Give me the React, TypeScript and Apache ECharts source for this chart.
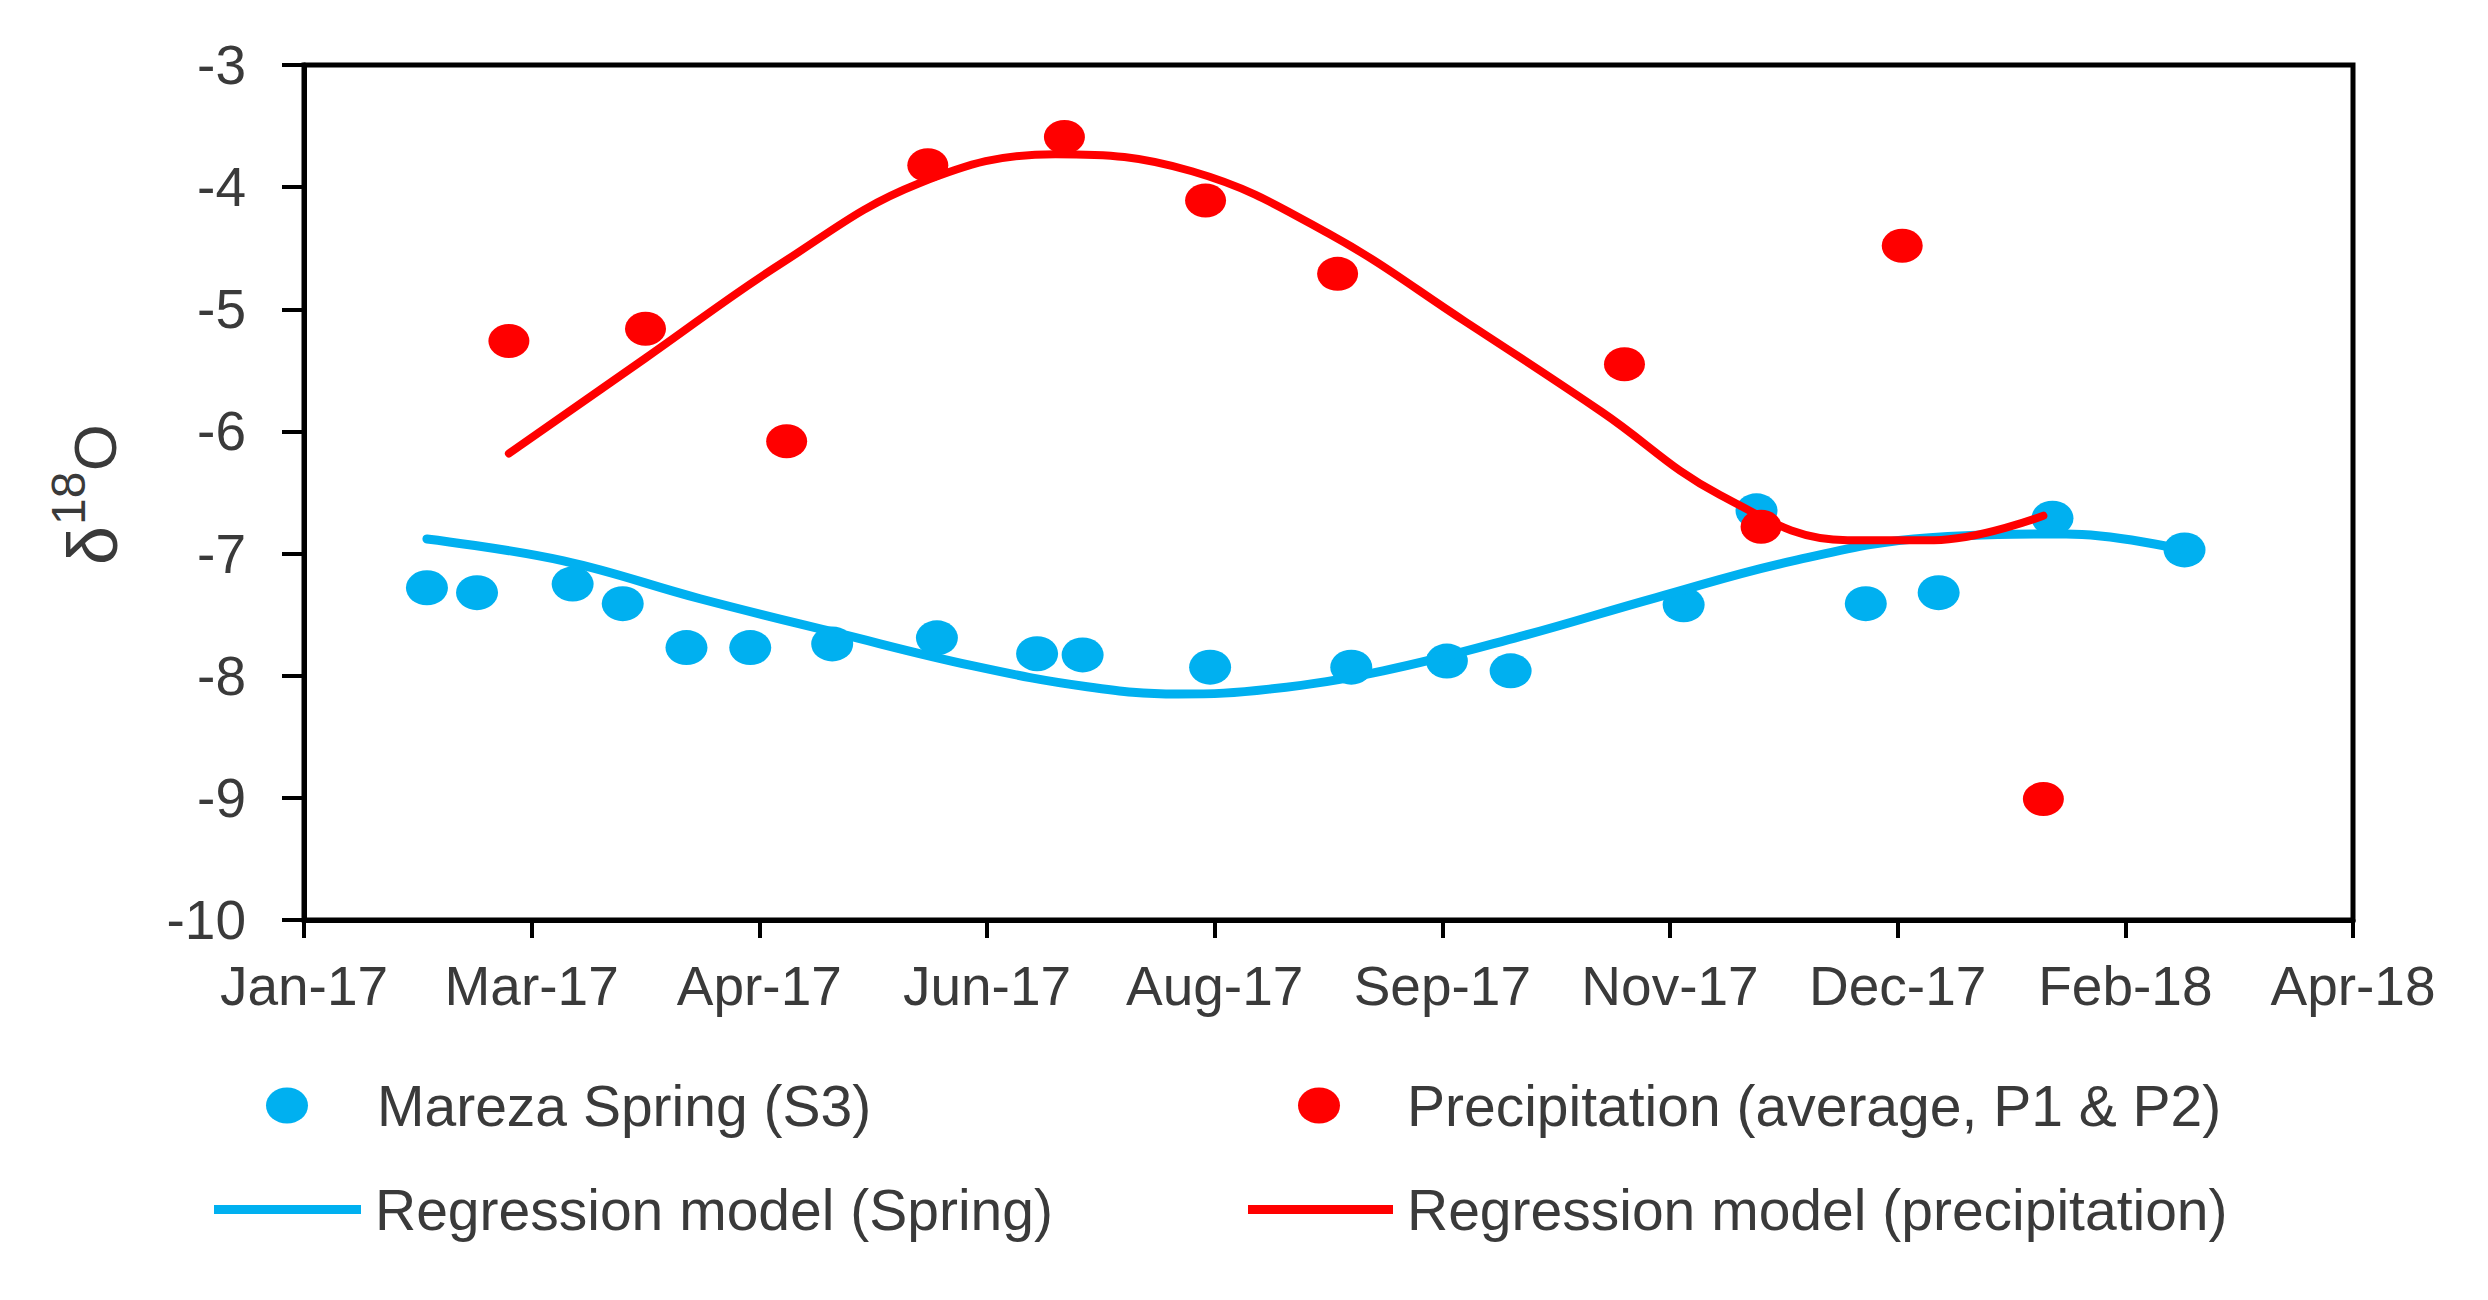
import React, { useEffect, useRef } from "react";
import * as echarts from "echarts";

// ---------------- data ----------------
const springDates = [
  "2017-02-11", "2017-02-22", "2017-03-15", "2017-03-26", "2017-04-09",
  "2017-04-23", "2017-05-11", "2017-06-03", "2017-06-25", "2017-07-05",
  "2017-08-02", "2017-09-02", "2017-09-23", "2017-10-07", "2017-11-14",
  "2017-11-30", "2017-12-24", "2018-01-09", "2018-02-03", "2018-03-04",
];
const springValues = [
  -7.28, -7.32, -7.25, -7.41, -7.77, -7.77, -7.74, -7.69, -7.82, -7.83,
  -7.93, -7.93, -7.88, -7.96, -7.42, -6.65, -7.41, -7.32, -6.71, -6.97,
];

const precipDates = [
  "2017-03-01", "2017-03-31", "2017-05-01", "2017-06-01", "2017-07-01",
  "2017-08-01", "2017-08-30", "2017-11-01", "2017-12-01", "2018-01-01",
  "2018-02-01",
];
const precipValues = [
  -5.26, -5.16, -6.08, -3.82, -3.59, -4.11, -4.71, -5.45, -6.78, -4.48, -9.01,
];

const springModelDates = [
  "2017-02-11", "2017-03-13", "2017-04-12", "2017-05-12", "2017-06-11",
  "2017-07-06", "2017-07-26", "2017-08-15", "2017-09-09", "2017-10-09",
  "2017-11-08", "2017-12-08", "2018-01-07", "2018-02-06", "2018-03-04",
];
const springModelValues = [
  -6.88, -7.06, -7.37, -7.65, -7.92, -8.09, -8.15, -8.11, -7.96, -7.68,
  -7.36, -7.06, -6.87, -6.84, -6.97,
];

const precipModelDates = [
  "2017-03-01", "2017-03-31", "2017-04-30", "2017-05-30", "2017-06-29",
  "2017-07-29", "2017-08-28", "2017-09-27", "2017-10-27", "2017-11-22",
  "2017-12-20", "2018-01-08", "2018-02-01",
];
const precipModelValues = [
  -6.18, -5.4, -4.62, -3.97, -3.73, -3.87, -4.38, -5.1, -5.84, -6.52,
  -6.89, -6.89, -6.69,
];

const monthNames = ["Jan", "Feb", "Mar", "Apr", "May", "Jun", "Jul", "Aug", "Sep", "Oct", "Nov", "Dec"];

const seriesNames = [
  "Mareza Spring (S3)",
  "Precipitation (average, P1 & P2)",
  "Regression model (Spring)",
  "Regression model (precipitation)",
];

// Excel-style day serial axis
const xMin = 42750;
const xMax = 43200;
const xStep = 50;
const yMin = -10;
const yMax = -3;
const yStep = 1;

// ---------------- helpers ----------------
const toSerial = (s: string) => {
  const [y, m, d] = s.split("-").map(Number);
  return Date.UTC(y, m - 1, d) / 864e5 + 25569;
};
const serialLabel = (v: number) => {
  const dt = new Date((v - 25569) * 864e5);
  const yy = String(dt.getUTCFullYear() % 100).padStart(2, "0");
  return `${monthNames[dt.getUTCMonth()]}-${yy}`;
};
const pairs = (dates: string[], vals: number[]) => dates.map((d, i) => [toSerial(d), vals[i]]);

const FONT = "'Liberation Sans', Arial, sans-serif";
const TEXT = "#3a3a3a";
const BLUE = "#00B0F0";
const RED = "#FF0000";
const ELLIPSE = "path://M50,0A50,50,0,1,1,50,100A50,50,0,1,1,50,0Z";

export default function App() {
  const ref = useRef<HTMLDivElement>(null);

  useEffect(() => {
    if (!ref.current) return;
    const chart = echarts.init(ref.current, undefined, { renderer: "svg" });

    const legendBase = {
      orient: "horizontal",
      selectedMode: false,
      padding: 0,
      itemGap: 0,
      symbolKeepAspect: false,
      itemStyle: { borderWidth: 0 },
    };
    const legendText = (pad: number) => ({
      fontSize: 57,
      fontFamily: FONT,
      color: TEXT,
      padding: [0, 0, 0, pad],
    });

    const option: any = {
      animation: false,
      backgroundColor: "#ffffff",
      grid: {
        left: 304,
        right: 135,
        top: 65,
        bottom: 380,
        show: true,
        borderColor: "#000",
        borderWidth: 5,
        backgroundColor: "transparent",
      },
      xAxis: {
        type: "value",
        min: xMin,
        max: xMax,
        interval: xStep,
        axisLine: { show: true, onZero: false, lineStyle: { color: "#000", width: 5 } },
        axisTick: { show: true, inside: false, length: 18, lineStyle: { color: "#000", width: 4 } },
        axisLabel: {
          margin: 38,
          fontSize: 55,
          fontFamily: FONT,
          color: TEXT,
          showMinLabel: true,
          showMaxLabel: true,
          formatter: (v: number) => serialLabel(v),
        },
        splitLine: { show: false },
      },
      yAxis: {
        type: "value",
        min: yMin,
        max: yMax,
        interval: yStep,
        axisLine: { show: true, onZero: false, lineStyle: { color: "#000", width: 5 } },
        axisTick: { show: true, inside: false, length: 22, lineStyle: { color: "#000", width: 4 } },
        axisLabel: {
          margin: 58,
          fontSize: 55,
          fontFamily: FONT,
          color: TEXT,
          showMinLabel: true,
          showMaxLabel: true,
        },
        splitLine: { show: false },
      },
      legend: [
        {
          ...legendBase,
          left: 266,
          top: 1077,
          itemWidth: 42,
          itemHeight: 36,
          data: [{ name: seriesNames[0], icon: ELLIPSE }],
          textStyle: legendText(64),
        },
        {
          ...legendBase,
          left: 1298,
          top: 1077,
          itemWidth: 42,
          itemHeight: 36,
          data: [{ name: seriesNames[1], icon: ELLIPSE }],
          textStyle: legendText(62),
        },
        {
          ...legendBase,
          left: 214,
          top: 1181,
          itemWidth: 147,
          itemHeight: 9,
          data: [{ name: seriesNames[2], icon: "rect" }],
          textStyle: legendText(9),
        },
        {
          ...legendBase,
          left: 1248,
          top: 1181,
          itemWidth: 145,
          itemHeight: 9,
          data: [{ name: seriesNames[3], icon: "rect" }],
          textStyle: legendText(9),
        },
      ],
      series: [
        {
          name: seriesNames[0],
          type: "scatter",
          symbol: ELLIPSE,
          symbolSize: [42, 35],
          itemStyle: { color: BLUE, opacity: 1 },
          data: pairs(springDates, springValues),
        },
        {
          name: seriesNames[1],
          type: "scatter",
          symbol: ELLIPSE,
          symbolSize: [41, 34],
          itemStyle: { color: RED, opacity: 1 },
          data: pairs(precipDates, precipValues),
        },
        {
          name: seriesNames[2],
          type: "line",
          smooth: 0.4,
          showSymbol: false,
          symbol: "none",
          itemStyle: { color: BLUE },
          lineStyle: { color: BLUE, width: 9, cap: "round" },
          data: pairs(springModelDates, springModelValues),
        },
        {
          name: seriesNames[3],
          type: "line",
          smooth: 0.4,
          showSymbol: false,
          symbol: "none",
          itemStyle: { color: RED },
          lineStyle: { color: RED, width: 8, cap: "round" },
          data: pairs(precipModelDates, precipModelValues),
        },
      ],
      graphic: [
        {
          type: "group",
          x: 95,
          y: 493,
          rotation: Math.PI / 2,
          children: [
            {
              type: "text",
              style: {
                text: "δ",
                x: -72,
                y: -2,
                fontSize: 70,
                fontFamily: FONT,
                fill: TEXT,
                align: "left",
                verticalAlign: "middle",
              },
            },
            {
              type: "text",
              style: {
                text: "18",
                x: -32,
                y: -27,
                fontSize: 48,
                fontFamily: FONT,
                fill: TEXT,
                align: "left",
                verticalAlign: "middle",
              },
            },
            {
              type: "text",
              style: {
                text: "O",
                x: 22,
                y: 0,
                fontSize: 60,
                fontFamily: FONT,
                fill: TEXT,
                align: "left",
                verticalAlign: "middle",
              },
            },
          ],
        },
      ],
    };

    chart.setOption(option);
    return () => chart.dispose();
  }, []);

  return (
    <div
      ref={ref}
      style={{ position: "fixed", left: 0, top: 0, width: 2488, height: 1300, background: "#fff" }}
    />
  );
}
